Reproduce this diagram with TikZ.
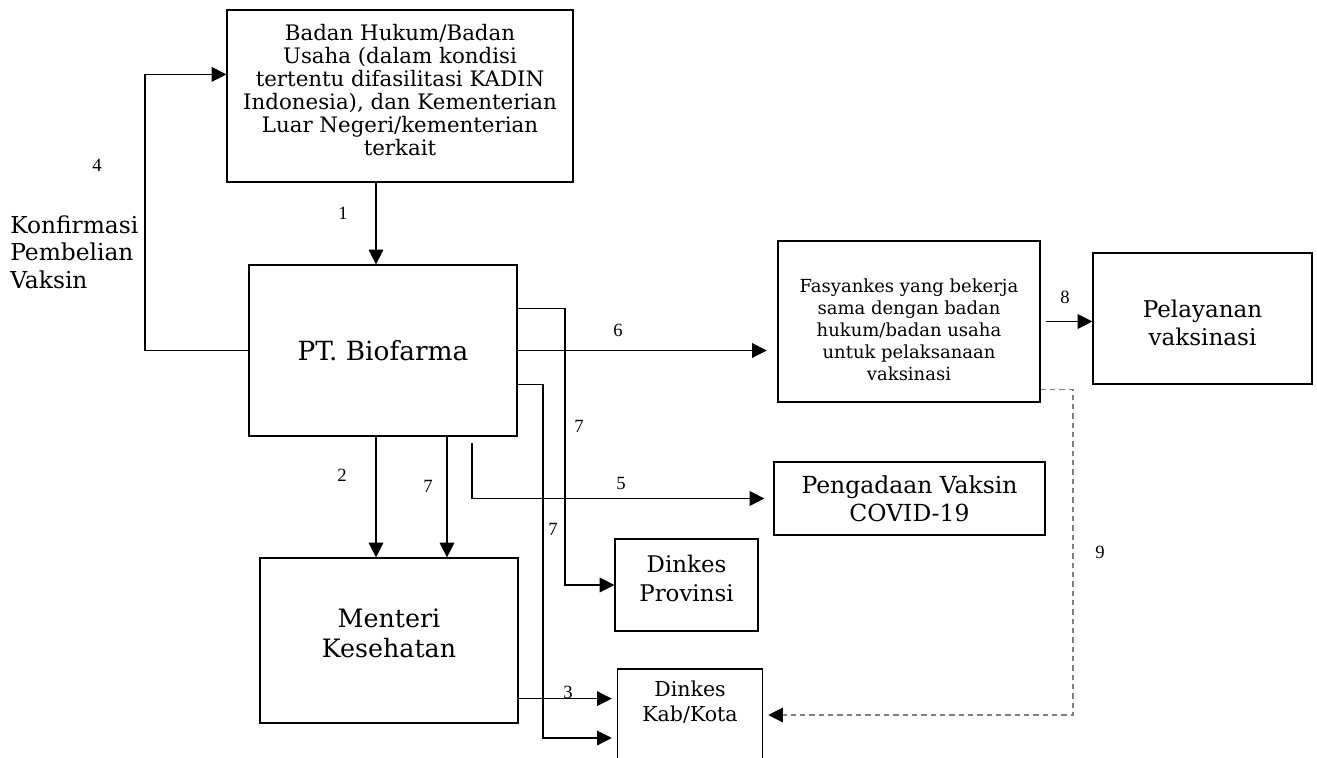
\documentclass[tikz,border=0pt]{standalone}
\usepackage{fontspec}
\setmainfont{DejaVu Serif}
\newfontfamily\numfont{Liberation Serif}
\usetikzlibrary{arrows.meta,calc}
\begin{document}
\begin{tikzpicture}[x=0.75pt,y=-0.75pt,
  box/.style={draw, line width=0.9pt, align=center, inner sep=0pt},
  txt/.style={align=center, inner sep=0pt},
  ln/.style={line width=0.9pt},
  arr/.style={line width=0.9pt, -{Triangle[length=11pt,width=11pt]}},
  dashnine/.style={line width=0.9pt, draw=black!50, dash pattern=on 4pt off 3pt, -{Triangle[length=11pt,width=11pt,color=black]}},
  num/.style={font=\numfont\fontsize{14}{16}\selectfont, inner sep=0pt}]
\useasboundingbox (0,0) rectangle (1317,757);
% boxes
\node[box, minimum width=259.5pt, minimum height=129pt,
  label={[txt, name=badanT, yshift=4.5pt, font=\fontsize{16}{17.25}\selectfont]center:Badan Hukum/Badan\\Usaha (dalam kondisi\\tertentu difasilitasi KADIN\\Indonesia), dan Kementerian\\Luar Negeri/kementerian\\terkait}] (badan) at (400,96) {};
\node[box, minimum width=201pt, minimum height=128.25pt, font=\fontsize{19.8}{23}\selectfont] (pt) at (383,350.5) {PT. Biofarma};
\node[box, minimum width=196.5pt, minimum height=120.75pt,
  label={[txt, name=fasT, yshift=-6pt, font=\fontsize{13.5}{16.5}\selectfont]center:Fasyankes yang bekerja\\sama dengan badan\\hukum/badan usaha\\untuk pelaksanaan\\vaksinasi}] (fas) at (909,321.5) {};
\node[box, minimum width=164.25pt, minimum height=98.25pt,
  label={[txt, name=pelT, yshift=-3pt, font=\fontsize{17.3}{21}\selectfont]center:Pelayanan\\vaksinasi}] (pel) at (1202.5,318.5) {};
\node[box, minimum width=203.25pt, minimum height=54.75pt, font=\fontsize{17.6}{21}\selectfont] (peng) at (909.5,498.5) {Pengadaan Vaksin\\COVID-19};
\node[box, minimum width=107.25pt, minimum height=69pt,
  label={[txt, name=provT, yshift=5.25pt, font=\fontsize{17.2}{21.75}\selectfont]center:Dinkes\\Provinsi}] (prov) at (686.5,585) {};
\node[box, minimum width=193.5pt, minimum height=123.75pt,
  label={[txt, name=menT, yshift=5.25pt, font=\fontsize{19}{23}\selectfont]center:Menteri\\Kesehatan}] (men) at (389,640.5) {};
\node[align=center, inner xsep=0pt, inner ysep=9pt, minimum width=108pt, anchor=north, font=\fontsize{15.4}{18.75}\selectfont] (kab) at (690,669) {Dinkes\\Kab/Kota};
\draw[ln] ($(kab.north west)+(0,92)$) -- (kab.north west) -- (kab.north east) -- ($(kab.north east)+(0,92)$);
\node[anchor=west, align=left, inner sep=0pt, font=\fontsize{17.5}{20.6}\selectfont] (konf) at (10,252) {Konfirmasi\\Pembelian\\Vaksin};
% helper coordinates
\coordinate (x145) at (145,0);
\coordinate (x376) at (376,0);
\coordinate (x447) at (447,0);
\coordinate (x543) at (543,0);
\coordinate (x565) at (565,0);
\coordinate (x1073) at (1073,0);
\coordinate (b4) at ($(badan.north west)+(0,65)$);
\coordinate (s5) at (472,443);
\coordinate (s7b) at ($(pt.north east)+(0,44)$);
\coordinate (s7c) at ($(pt.south east)+(0,-52)$);
\coordinate (k2) at ($(kab.north west)+(0,69)$);
\coordinate (s3) at ($(men.south east)+(0,-25)$);
\coordinate (s9) at ($(fas.south east)+(0,-13)$);
\coordinate (k9) at ($(kab.north east)+(0,46)$);
% connectors
\draw[arr] (badan.south -| x376) -- (pt.north -| x376);
\draw[arr] (pt.west) -- (pt.west -| x145) -- (x145 |- b4) -- (b4);
\draw[arr] (pt.south -| x376) -- (men.north -| x376);
\draw[arr] (pt.south -| x447) -- (men.north -| x447);
\draw[arr, shorten >=6.75pt] (s5) |- (peng.west);
\draw[arr, shorten >=8pt] (pt.east) -- (pt.east -| fas.west);
\draw[arr] (s7b) -| (x565 |- prov.west) -- (prov.west);
\draw[arr, shorten >=4.5pt] (s7c) -| (x543 |- k2) -- (k2);
\draw[arr, shorten >=4.5pt] (s3) -- (s3 -| kab.west);
\draw[arr, shorten <=3.75pt] (fas.east) -- (fas.east -| pel.west);
\draw[dashnine, shorten >=4.5pt] (s9) -| (x1073 |- k9) -- (k9);
% labels
\node[num] (l1) at (343,213) {1};
\node[num] (l2) at (342,475) {2};
\node[num] (l3) at (568,692) {3};
\node[num] (l4) at (97,165) {4};
\node[num] (l5) at (621,483) {5};
\node[num] (l6) at (618,330) {6};
\node[num] (l7a) at (428,486) {7};
\node[num] (l7b) at (579,426) {7};
\node[num] (l7c) at (553,529) {7};
\node[num] (l8) at (1065,297) {8};
\node[num] (l9) at (1100,552) {9};
\end{tikzpicture}
\end{document}
